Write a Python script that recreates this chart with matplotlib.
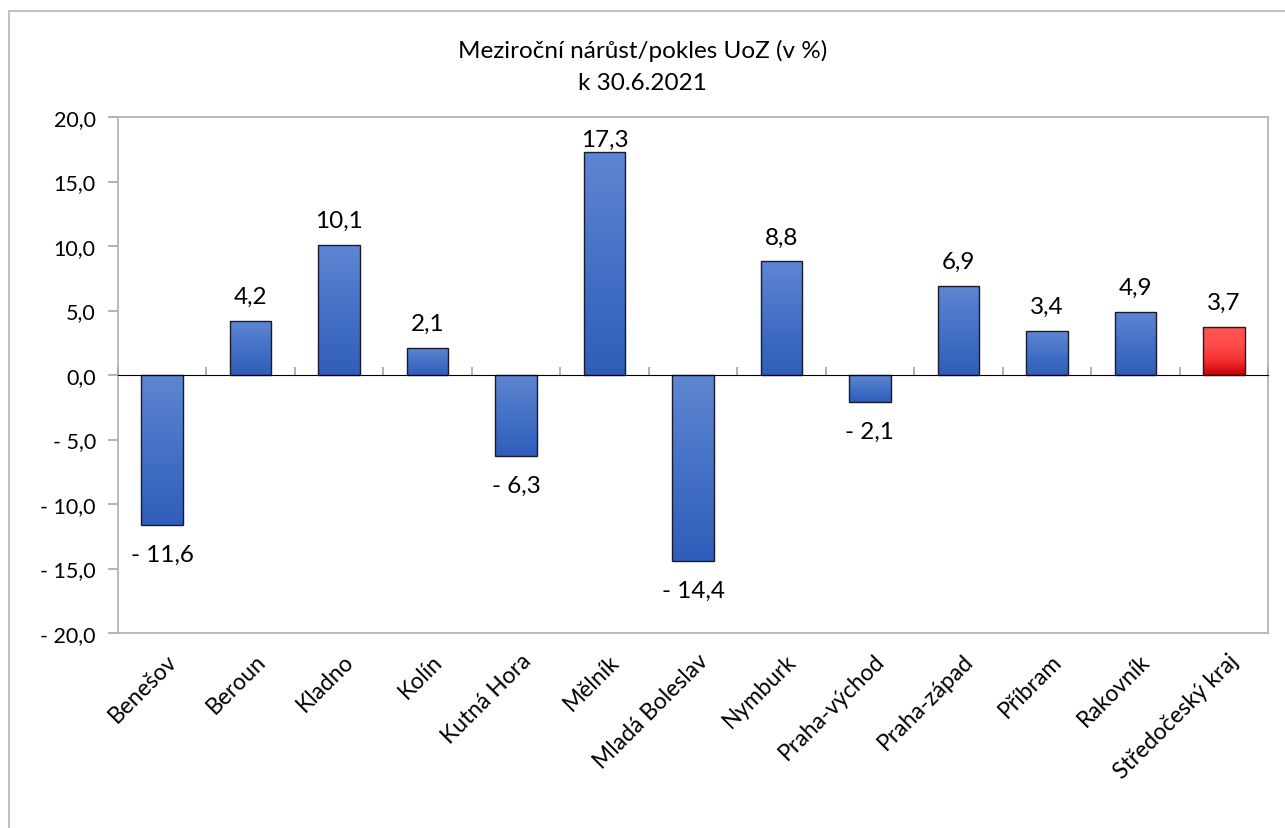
import numpy as np
import matplotlib
matplotlib.use("Agg")
import matplotlib.pyplot as plt
from matplotlib.patches import Rectangle
from matplotlib.colors import LinearSegmentedColormap
from matplotlib.transforms import blended_transform_factory, offset_copy

categories = ["Benešov", "Beroun", "Kladno", "Kolín", "Kutná Hora", "Mělník",
              "Mladá Boleslav", "Nymburk", "Praha-východ", "Praha-západ",
              "Příbram", "Rakovník", "Středočeský kraj"]
values = [-11.6, 4.2, 10.1, 2.1, -6.3, 17.3, -14.4, 8.8, -2.1, 6.9, 3.4, 4.9, 3.7]
highlight = ["Středočeský kraj"]
yticks = [-20, -15, -10, -5, 0, 5, 10, 15, 20]
title = "Meziroční nárůst/pokles UoZ (v %)\nk 30.6.2021"

plt.rcParams['font.family'] = ['Lato', 'DejaVu Sans']

W, H = 1285, 829
fig = plt.figure(figsize=(W / 100, H / 100), dpi=100)
L, R, T, B = 118, 1268, 118, 634
ax = fig.add_axes([L / W, 1 - B / H, (R - L) / W, (B - T) / H])

# figure border (left & top visible)
fig.patches.append(Rectangle((9 / W, -0.1), 1.2, 1 - 12 / H + 0.1, transform=fig.transFigure,
                             fill=False, edgecolor="#b4b4b4", linewidth=1.2, zorder=0))

fmt = lambda v: ("- " if v < 0 else "") + f"{abs(v):.1f}".replace(".", ",")

blue_cmap = LinearSegmentedColormap.from_list("b", [(0, "#2f5dba"), (0.5, "#4572c6"), (1, "#5e86d2")])
red_cmap = LinearSegmentedColormap.from_list("r", [(0, "#c80000"), (0.3, "#f23030"), (0.6, "#ff4a4a"), (1, "#ff5656")])

x = np.arange(len(categories))
width = 0.47
bars = ax.bar(x, values, width=width, color="none", edgecolor="#1a1a2e", linewidth=1.0, zorder=3)
grad = np.linspace(0, 1, 256).reshape(-1, 1)
for cat, b, v in zip(categories, bars, values):
    x0 = b.get_x()
    y0, y1 = min(0, v), max(0, v)
    cmap = red_cmap if cat in highlight else blue_cmap
    im = ax.imshow(grad, extent=[x0, x0 + width, y0, y1], origin="lower", aspect="auto",
                   cmap=cmap, zorder=2, interpolation="bicubic")
    im.set_clip_path(b)

ax.set_xlim(-0.5, len(categories) - 0.5)
ax.set_ylim(-20, 20)

# value labels
VFS = 17.5
ppu = (B - T) / 40.0  # pixels per unit
for xi, v in zip(x, values):
    if v >= 0:
        avail = (20 - v) * ppu
        off = min(18, avail - 29)
        tr = offset_copy(ax.transData, fig=fig, x=0, y=off, units="dots")
        ax.text(xi, v, fmt(v), ha="center", va="baseline", fontsize=VFS, transform=tr, color="#000000")
    else:
        tr = offset_copy(ax.transData, fig=fig, x=0, y=-19, units="dots")
        ax.text(xi, v, fmt(v), ha="center", va="top", fontsize=VFS, transform=tr, color="#000000")

# y axis
ax.set_yticks(yticks)
ax.set_yticklabels([fmt(t) for t in yticks])
ax.tick_params(axis="y", length=7, width=1.2, color="#a6a6a6", pad=9, labelsize=15.5)
ax.set_xticks([])
for s in ax.spines.values():
    s.set_color("#b4b4b4")
    s.set_linewidth(1.3)

# zero line with category-separator tick marks
sec = ax.secondary_xaxis(0.5)
sec.set_xticks(np.arange(-0.5, len(categories) + 0.5, 1.0))
sec.set_xticklabels([])
sec.tick_params(axis="x", direction="out", length=6, width=1.2, color="#a6a6a6")
sec.spines["bottom"].set_color("#a6a6a6")
sec.spines["bottom"].set_linewidth(1.3)
sec.set_zorder(4)

# category labels
btr = blended_transform_factory(ax.transData, ax.transAxes)
for xi, c in zip(x, categories):
    tr = offset_copy(btr, fig=fig, x=4, y=-17, units="dots")
    ax.text(xi, 0, c, rotation=45, ha="right", va="top", rotation_mode="anchor",
            fontsize=16.5, transform=tr, color="#000000")

fig.text(0.5, 1 - 40 / H, title, ha="center", va="top", fontsize=17.5,
         linespacing=1.65, color="#000000")

fig.savefig("out.png", dpi=100)
